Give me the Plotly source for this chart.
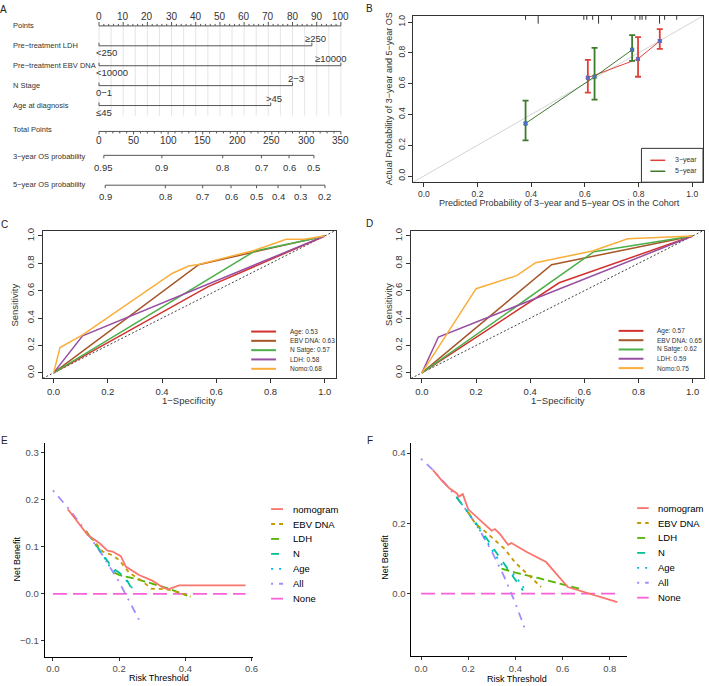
import plotly.graph_objects as go

W, H = 709, 686
FONT = "Liberation Sans, Arial, sans-serif"
INK = "#333333"


def fx(p):
    return p / W


def fy(p):
    return 1 - p / H


# ---------------- Panel A : nomogram ----------------
points_ticks = [0, 10, 20, 30, 40, 50, 60, 70, 80, 90, 100]
nomo_vars = ["Pre−treatment LDH", "Pre−treatment EBV DNA", "N Stage", "Age at diagnosis"]
nomo_low = ["<250", "<10000", "0−1", "≤45"]
nomo_high = ["≥250", "≥10000", "2−3", ">45"]
nomo_points = [88, 100, 80, 71]
total_ticks = [0, 50, 100, 150, 200, 250, 300, 350]
os3_labels = ["0.95", "0.9", "0.8", "0.7", "0.6", "0.5"]
os3_total = [7, 91, 179, 235, 275, 311]
os5_labels = ["0.9", "0.8", "0.7", "0.6", "0.5", "0.4", "0.3", "0.2"]
os5_total = [9, 96, 150, 191, 228, 259, 292, 327]

# ---------------- Panel B : calibration ----------------
cal3_pred = [0.611, 0.798, 0.879]
cal3_obs = [0.639, 0.761, 0.877]
cal3_hi = [0.755, 0.903, 0.955]
cal3_lo = [0.542, 0.645, 0.826]
cal5_pred = [0.379, 0.636, 0.776]
cal5_obs = [0.342, 0.645, 0.820]
cal5_hi = [0.490, 0.832, 0.916]
cal5_lo = [0.232, 0.497, 0.748]
rug_x = [0.379, 0.426, 0.596, 0.607, 0.629, 0.651, 0.699, 0.787, 0.805, 0.813, 0.827, 0.878, 0.897, 0.942]
rug_n = [1, 2, 1, 1, 1, 2, 1, 1, 1, 1, 1, 2, 1, 1]

# ---------------- Panel C : ROC (3-year) ----------------
rocC_names = ["Age: 0.53", "EBV DNA: 0.63", "N Satge: 0.57", "LDH: 0.58", "Nomo:0.68"]
rocC_fpr = [
    [0, 0.57, 1],
    [0, 0.535, 0.742, 0.931, 1],
    [0, 0.742, 0.931, 1],
    [0, 0.107, 1],
    [0, 0.024, 0.107, 0.30, 0.437, 0.498, 0.535, 0.742, 0.858, 0.925, 1],
]
rocC_tpr = [
    [0, 0.63, 1],
    [0, 0.79, 0.884, 0.969, 1],
    [0, 0.89, 0.969, 1],
    [0, 0.27, 1],
    [0, 0.185, 0.278, 0.537, 0.726, 0.78, 0.791, 0.896, 0.976, 0.976, 1],
]

# ---------------- Panel D : ROC (5-year) ----------------
rocD_names = ["Age: 0.57", "EBV DNA: 0.65", "N Satge: 0.62", "LDH: 0.59", "Nomo:0.75"]
rocD_fpr = [
    [0, 0.507, 1],
    [0, 0.479, 1],
    [0, 0.635, 1],
    [0, 0.061, 1],
    [0, 0.195, 0.20, 0.35, 0.405, 0.42, 0.63, 0.76, 1],
]
rocD_tpr = [
    [0, 0.658, 1],
    [0, 0.79, 1],
    [0, 0.885, 1],
    [0, 0.262, 1],
    [0, 0.59, 0.615, 0.71, 0.78, 0.805, 0.89, 0.98, 1],
]
roc_colors = ["#D2322D", "#A65628", "#4DAF4A", "#984EA3", "#FAAE3A"]

# ---------------- Panel E : decision curves ----------------
dca_names = ["nomogram", "EBV DNA", "LDH", "N", "Age", "All", "None"]
E_x = [
    [0.045, 0.08, 0.105, 0.14, 0.165, 0.18, 0.195, 0.205, 0.22, 0.26, 0.30, 0.336, 0.35, 0.381, 0.45, 0.582],
    [0.10, 0.15, 0.18, 0.20, 0.23, 0.27, 0.296, 0.34, 0.38, 0.416],
    [0.186, 0.20, 0.25, 0.30, 0.35, 0.406],
    [0.10, 0.15, 0.18, 0.20, 0.22, 0.246],
    [0.10, 0.15, 0.17, 0.19, 0.21, 0.25],
    [0.0, 0.05, 0.10, 0.15, 0.20, 0.25, 0.26],
    [0.0, 0.582],
]
E_y = [
    [0.180, 0.148, 0.125, 0.108, 0.092, 0.090, 0.085, 0.080, 0.058, 0.040, 0.028, 0.012, 0.010, 0.018, 0.018, 0.018],
    [0.133, 0.090, 0.082, 0.072, 0.045, 0.027, 0.011, 0.010, 0.003, -0.006],
    [0.045, 0.040, 0.032, 0.022, 0.011, -0.004],
    [0.133, 0.083, 0.055, 0.045, 0.034, 0.0],
    [0.133, 0.083, 0.060, 0.045, 0.038, 0.003],
    [0.220, 0.179, 0.133, 0.082, 0.025, -0.040, -0.055],
    [0.0, 0.0],
]

# ---------------- Panel F : decision curves ----------------
F_x = [
    [0.05, 0.09, 0.12, 0.152, 0.159, 0.177, 0.20, 0.25, 0.299, 0.313, 0.334, 0.369, 0.383, 0.45, 0.53, 0.622, 0.713, 0.832],
    [0.20, 0.229, 0.27, 0.306, 0.355, 0.397, 0.446, 0.509],
    [0.341, 0.40, 0.50, 0.608, 0.671],
    [0.15, 0.20, 0.25, 0.30, 0.348, 0.404, 0.432],
    [0.15, 0.20, 0.25, 0.30, 0.35, 0.383, 0.425, 0.439],
    [0.0, 0.05, 0.10, 0.15, 0.20, 0.25, 0.30, 0.35, 0.40, 0.446],
    [0.0, 0.832],
]
F_y = [
    [0.352, 0.320, 0.300, 0.285, 0.276, 0.283, 0.240, 0.210, 0.179, 0.184, 0.170, 0.139, 0.144, 0.118, 0.090, 0.019, 0.001, -0.024],
    [0.232, 0.200, 0.178, 0.156, 0.127, 0.090, 0.058, 0.019],
    [0.071, 0.060, 0.044, 0.024, 0.014],
    [0.275, 0.230, 0.185, 0.135, 0.090, 0.038, 0.009],
    [0.275, 0.230, 0.180, 0.125, 0.075, 0.062, 0.028, 0.012],
    [0.384, 0.352, 0.315, 0.275, 0.230, 0.179, 0.120, 0.052, -0.027, -0.110],
    [0.0, 0.0],
]
dca_colors = ["#F8766D", "#C49A00", "#53B400", "#00C094", "#00B6EB", "#A58AFF", "#FB61D7"]
dca_dash = ["solid", "4px,4px", "8px,4px", "8px,8px", "2px,6px", "2px,6px,8px,6px", "14px,6px"]

fig = go.Figure()
annotations = []
shapes = []


def segs(pairs):
    xs, ys = [], []
    for x0, y0, x1, y1 in pairs:
        xs += [x0, x1, None]
        ys += [y0, y1, None]
    return xs, ys


def add_segs(pairs, color, width, xa="x", ya="y", dash="solid"):
    xs, ys = segs(pairs)
    fig.add_trace(go.Scatter(x=xs, y=ys, mode="lines", xaxis=xa, yaxis=ya,
                             line=dict(color=color, width=width, dash=dash),
                             hoverinfo="skip", showlegend=False))


def ann(x, y, text, size, xref="x", yref="y", xanchor="center", yanchor="middle",
        angle=0, color=INK):
    annotations.append(dict(x=x, y=y, xref=xref, yref=yref, text=text, showarrow=False,
                            xanchor=xanchor, yanchor=yanchor, textangle=angle,
                            font=dict(size=size, color=color, family=FONT)))


def pann(px, py, text, size, xanchor="center", angle=0, color=INK):
    ann(fx(px), fy(py), text, size, xref="paper", yref="paper", xanchor=xanchor,
        angle=angle, color=color)


# ---------- Panel A drawing ----------
ROW_POINTS, ROW_TOTAL, ROW_3Y, ROW_5Y = 23, 129, 153, 183
VAR_ROWS = [43, 63, 83, 103]
LABEL_X = -36.4
NCOL = "#555555"


def tp(t):
    return t * 100 / total_ticks[-1]


add_segs([(v, ROW_POINTS, v, 113) for v in range(0, 101, 5)], "#DEDEDE", 0.8)
pts = [(0, ROW_POINTS, 100, ROW_POINTS)]
pts += [(v, ROW_POINTS, v, ROW_POINTS - 4) for v in points_ticks]
pts += [(v, ROW_POINTS, v, ROW_POINTS - 2) for v in range(0, 101, 2) if v % 10]
for y, p in zip(VAR_ROWS, nomo_points):
    pts += [(0, y, p, y), (0, y, 0, y - 3), (p, y, p, y - 3)]
pts += [(0, ROW_TOTAL, tp(total_ticks[-1]), ROW_TOTAL)]
pts += [(tp(t), ROW_TOTAL, tp(t), ROW_TOTAL + 3) for t in total_ticks]
pts += [(tp(t), ROW_TOTAL, tp(t), ROW_TOTAL + 2) for t in range(0, 351, 10) if t % 50]
pts += [(tp(os3_total[0]), ROW_3Y, tp(os3_total[-1]), ROW_3Y)]
pts += [(tp(t), ROW_3Y, tp(t), ROW_3Y + 3) for t in os3_total]
pts += [(tp(os5_total[0]), ROW_5Y, tp(os5_total[-1]), ROW_5Y)]
pts += [(tp(t), ROW_5Y, tp(t), ROW_5Y + 3) for t in os5_total]
add_segs(pts, NCOL, 1)

ann(LABEL_X, ROW_POINTS, "Points", 7.5, xanchor="left")
for v in points_ticks:
    ann(v, ROW_POINTS - 9, str(v), 10)
for y, name, lo, hi, p in zip(VAR_ROWS, nomo_vars, nomo_low, nomo_high, nomo_points):
    ann(LABEL_X, y, name, 7.5, xanchor="left")
    ann(-2, y + 7, lo, 9.5, xanchor="left")
    ann(min(p + 1.5, 96), y - 7, hi, 9.5)
ann(LABEL_X, ROW_TOTAL - 2, "Total Points", 7.5, xanchor="left")
for t in total_ticks:
    ann(tp(t), ROW_TOTAL + 9, str(t), 10)
ann(LABEL_X, ROW_3Y + 1, "3−year OS probability", 7.5, xanchor="left")
for t, lab in zip(os3_total, os3_labels):
    ann(tp(t), ROW_3Y + 12, lab, 9.5)
ann(LABEL_X, ROW_5Y - 1, "5−year OS probability", 7.5, xanchor="left")
for t, lab in zip(os5_total, os5_labels):
    ann(tp(t), ROW_5Y + 11, lab, 9.5)

# ---------- Panel B drawing ----------
add_segs([(-0.04, -0.04, 1.04, 1.04)], "#D4D4D4", 1, "x2", "y2")
add_segs([(x, 1.04, x, 1.04 - 0.025 * n) for x, n in zip(rug_x, rug_n)], INK, 1, "x2", "y2")
for pred, obs, hi, lo, col in [(cal3_pred, cal3_obs, cal3_hi, cal3_lo, "#E0403A"),
                               (cal5_pred, cal5_obs, cal5_hi, cal5_lo, "#3E7B2E")]:
    fig.add_trace(go.Scatter(
        x=pred, y=obs, xaxis="x2", yaxis="y2", mode="lines+markers",
        line=dict(color=col, width=1), marker=dict(symbol="square", size=4, color=col),
        error_y=dict(type="data", symmetric=False,
                     array=[h - o for h, o in zip(hi, obs)],
                     arrayminus=[o - l for o, l in zip(obs, lo)],
                     color=col, thickness=1.8, width=3),
        showlegend=False, hoverinfo="skip"))
    fig.add_trace(go.Scatter(x=pred, y=obs, xaxis="x2", yaxis="y2", mode="markers",
                             marker=dict(symbol="x", size=4, color="#4A6FD0"),
                             showlegend=False, hoverinfo="skip"))

# ---------- Panel C / D drawing ----------
for xa, ya, fprs, tprs in [("x3", "y3", rocC_fpr, rocC_tpr), ("x4", "y4", rocD_fpr, rocD_tpr)]:
    add_segs([(-0.04, -0.04, 1.04, 1.04)], "#444444", 1, xa, ya, dash="2px,2px")
    for f, t, c in zip(fprs, tprs, roc_colors):
        fig.add_trace(go.Scatter(x=f, y=t, xaxis=xa, yaxis=ya, mode="lines",
                                 line=dict(color=c, width=1.5), showlegend=False,
                                 hoverinfo="skip"))

# ---------- Panel E / F drawing ----------
for xa, ya, xs, ys in [("x5", "y5", E_x, E_y), ("x6", "y6", F_x, F_y)]:
    order = [6, 5, 4, 3, 2, 1, 0]
    for i in order:
        fig.add_trace(go.Scatter(x=xs[i], y=ys[i], xaxis=xa, yaxis=ya, mode="lines",
                                 line=dict(color=dca_colors[i], width=1.8, dash=dca_dash[i]),
                                 showlegend=False, hoverinfo="skip"))

# ---------- axes ----------
def r_axis(domain, rng, angle=0, size=8.5):
    return dict(domain=domain, range=rng, showline=True, mirror=True, linecolor=INK,
                linewidth=1, ticks="outside", ticklen=4, tickcolor=INK,
                tickvals=[0, 0.2, 0.4, 0.6, 0.8, 1.0], tickformat=".1f",
                tickangle=angle, tickfont=dict(size=size, color=INK, family=FONT),
                showgrid=False, zeroline=False)


def gg_axis(domain, rng, vals):
    return dict(domain=domain, range=rng, showline=True, mirror=False, linecolor="black",
                linewidth=1, ticks="outside", ticklen=3, tickcolor="#333333",
                tickvals=vals, tickformat=".1f",
                tickfont=dict(size=9.5, color="#4D4D4D", family=FONT),
                showgrid=False, zeroline=False)


layout = dict(
    width=W, height=H, autosize=False,
    margin=dict(l=0, r=0, t=0, b=0),
    paper_bgcolor="white", plot_bgcolor="white",
    font=dict(family=FONT, color=INK),
    xaxis=dict(domain=[0, fx(355)], range=[-40.93, 104.8], visible=False),
    yaxis=dict(domain=[fy(205), 1], range=[205, 0], visible=False),
    xaxis2=dict(anchor="y2", **r_axis([fx(416), fx(708)], [-0.04, 1.04])),
    yaxis2=dict(anchor="x2", **r_axis([fy(180), fy(13)], [-0.04, 1.04], angle=-90)),
    xaxis3=dict(anchor="y3", **r_axis([fx(43), fx(338)], [-0.04, 1.04], size=9.5)),
    yaxis3=dict(anchor="x3", **r_axis([fy(377), fy(228.5)], [-0.04, 1.04], angle=-90, size=9.5)),
    xaxis4=dict(anchor="y4", **r_axis([fx(414), fx(708.5)], [-0.04, 1.04], size=9.5)),
    yaxis4=dict(anchor="x4", **r_axis([fy(377), fy(228.5)], [-0.04, 1.04], angle=-90, size=9.5)),
    xaxis5=dict(anchor="y5", **gg_axis([fx(45), fx(255)], [-0.025, 0.605], [0, 0.2, 0.4, 0.6])),
    yaxis5=dict(anchor="x5", **gg_axis([fy(656.7), fy(442.3)], [-0.134, 0.32], [-0.1, 0, 0.1, 0.2, 0.3])),
    xaxis6=dict(anchor="y6", **gg_axis([fx(414.3), fx(631.7)], [-0.041, 0.874], [0, 0.2, 0.4, 0.6, 0.8])),
    yaxis6=dict(anchor="x6", **gg_axis([fy(656), fy(442.3)], [-0.1775, 0.4275], [0, 0.2, 0.4])),
)

# axis titles
pann(392, 96.5, "Actual Probability of 3−year and 5−year OS", 9, angle=-90)
pann(563, 201, "Predicted Probability of 3−year and 5−year OS in the Cohort", 9)
pann(15, 303, "Sensitivity", 9.5, angle=-90)
pann(190.5, 399, "1−Specificity", 9.5)
pann(391, 303, "Sensitivity", 9.5, angle=-90)
pann(561.5, 399, "1−Specificity", 9.5)
pann(17, 558, "Net Benefit", 9, angle=-90, color="black")
pann(160, 678, "Risk Threshold", 9, color="black")
pann(387, 557, "Net Benefit", 9, angle=-90, color="black")
pann(521, 679, "Risk Threshold", 9, color="black")

# panel letters
for lx, ly, letter in [(4, 7, "A"), (372, 6, "B"), (5, 222, "C"), (372, 221, "D"), (5, 439, "E"), (373, 439, "F")]:
    pann(lx, ly, letter, 10, color="#222222")

# legend B
shapes.append(dict(type="rect", xref="paper", yref="paper", x0=fx(646), x1=fx(708),
                   y0=fy(180), y1=fy(146), line=dict(color=INK, width=1), fillcolor="white",
                   layer="above"))
for py, col, lab in [(158, "#E0403A", "3−year"), (169, "#3E7B2E", "5−year")]:
    shapes.append(dict(type="line", xref="paper", yref="paper", x0=fx(655), x1=fx(670),
                       y0=fy(py), y1=fy(py), line=dict(color=col, width=1.5), layer="above"))
    pann(678, py, lab, 7, xanchor="left")

# legends C / D
for kx0, kx1, tx, rows, names in [(253, 278, 290, [330, 339.3, 348.7, 358, 367.4], rocC_names),
                                  (623, 648, 660, [329.3, 338.7, 348, 357.3, 366.7], rocD_names)]:
    for py, col, lab in zip(rows, roc_colors, names):
        shapes.append(dict(type="line", xref="paper", yref="paper", x0=fx(kx0), x1=fx(kx1),
                           y0=fy(py), y1=fy(py), line=dict(color=col, width=2)))
        pann(tx, py, lab, 6.5, xanchor="left")

# legends E / F
for kx0, kx1, tx, top in [(273, 285, 292.7, 508.3), (641.7, 653.3, 661, 507.3)]:
    for i, lab in enumerate(dca_names):
        py = top + 15 * i
        shapes.append(dict(type="line", xref="paper", yref="paper", x0=fx(kx0), x1=fx(kx1),
                           y0=fy(py), y1=fy(py),
                           line=dict(color=dca_colors[i], width=1.8, dash=dca_dash[i])))
        pann(tx, py, lab, 9.5, xanchor="left", color="black")

layout["annotations"] = annotations
layout["shapes"] = shapes
fig.update_layout(**layout)
fig.write_html("out.html", config={"displayModeBar": False},
               post_script="document.body.style.margin='0';document.body.style.padding='0';")
